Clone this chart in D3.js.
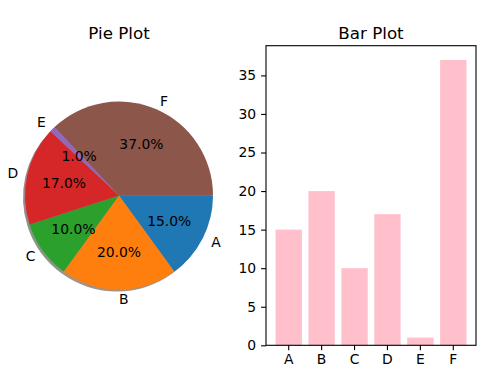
<!DOCTYPE html>
<html>
<head>
<meta charset="utf-8">
<script src="https://cdn.jsdelivr.net/npm/d3@7"></script>
<style>
  html, body { margin: 0; padding: 0; background: #fff; }
  svg { display: block; font-family: "DejaVu Sans", sans-serif; }
</style>
</head>
<body>
<svg id="chart" width="500" height="379"></svg>
<script>
const categories = ["A", "B", "C", "D", "E", "F"];
const values = [15, 20, 10, 17, 1, 37];
const pieColors = ["#1f77b4", "#ff7f0e", "#2ca02c", "#d62728", "#9467bd", "#8c564b"];
const yTicks = [0, 5, 10, 15, 20, 25, 30, 35];
const barColor = "pink";

(function () {
const svg = d3.select("#chart");

// ---------- Pie ----------
const cx = 119, cy = 195.5, R = 94;
const pie = d3.pie().sort(null).startAngle(Math.PI / 2).endAngle(Math.PI / 2 + 2 * Math.PI);
const arcs = pie(values);
const arc = d3.arc().innerRadius(0).outerRadius(R);
const total = d3.sum(values);

const gp = svg.append("g").attr("transform", `translate(${cx},${cy})`);

// shadow
gp.append("g").attr("transform", "translate(-2,2)")
  .selectAll("path").data(arcs).join("path")
  .attr("d", arc)
  .attr("fill", (d, i) => {
    const c = d3.rgb(pieColors[i]);
    return d3.rgb(c.r * 0.3, c.g * 0.3, c.b * 0.3).toString();
  })
  .attr("fill-opacity", 0.5);

gp.append("g").selectAll("path").data(arcs).join("path")
  .attr("d", arc)
  .attr("fill", (d, i) => pieColors[i]);

const mid = d => (d.startAngle + d.endAngle) / 2;

// category labels
gp.append("g").selectAll("text").data(arcs).join("text")
  .attr("x", d => 1.1 * R * Math.sin(mid(d)))
  .attr("y", d => -1.1 * R * Math.cos(mid(d)))
  .attr("dy", "0.36em")
  .attr("text-anchor", d => Math.sin(mid(d)) > 0 ? "start" : "end")
  .attr("font-size", 13.9)
  .attr("fill", "#000")
  .text((d, i) => categories[i]);

// percentage labels
gp.append("g").selectAll("text").data(arcs).join("text")
  .attr("x", d => 0.6 * R * Math.sin(mid(d)))
  .attr("y", d => -0.6 * R * Math.cos(mid(d)))
  .attr("dy", "0.36em")
  .attr("text-anchor", "middle")
  .attr("font-size", 13.9)
  .attr("fill", "#000")
  .text(d => (d.value / total * 100).toFixed(1) + "%");

svg.append("text")
  .attr("x", cx).attr("y", 39)
  .attr("text-anchor", "middle")
  .attr("font-size", 16.7)
  .text("Pie Plot");

// ---------- Bar ----------
const axL = 266, axR = 476, axT = 45.7, axB = 345.3;
const x = d3.scaleBand().domain(categories).range([axL, axR]).paddingInner(0.2).paddingOuter(0.29);
const y = d3.scaleLinear().domain([0, d3.max(values) * 1.05]).range([axB, axT]);

svg.append("g").selectAll("rect").data(values).join("rect")
  .attr("x", (d, i) => x(categories[i]))
  .attr("width", x.bandwidth())
  .attr("y", d => y(d))
  .attr("height", d => y(0) - y(d))
  .attr("fill", barColor);

const xAxis = svg.append("g").attr("transform", `translate(0,${axB})`)
  .call(d3.axisBottom(x).tickSize(4.9).tickPadding(4.2).tickSizeOuter(0));
const yAxis = svg.append("g").attr("transform", `translate(${axL},0)`)
  .call(d3.axisLeft(y).tickValues(yTicks).tickSize(4.9).tickPadding(4.9).tickSizeOuter(0));

[xAxis, yAxis].forEach(a => {
  a.select(".domain").remove();
  a.selectAll("line").attr("stroke", "#000").attr("stroke-width", 1.1);
  a.selectAll("text").attr("font-size", 13.9).attr("font-family", "DejaVu Sans").attr("fill", "#000");
});

svg.append("rect")
  .attr("x", axL).attr("y", axT)
  .attr("width", axR - axL).attr("height", axB - axT)
  .attr("fill", "none").attr("stroke", "#000").attr("stroke-width", 1.1);

svg.append("text")
  .attr("x", (axL + axR) / 2).attr("y", 39)
  .attr("text-anchor", "middle")
  .attr("font-size", 16.7)
  .text("Bar Plot");
})();
</script>
</body>
</html>
